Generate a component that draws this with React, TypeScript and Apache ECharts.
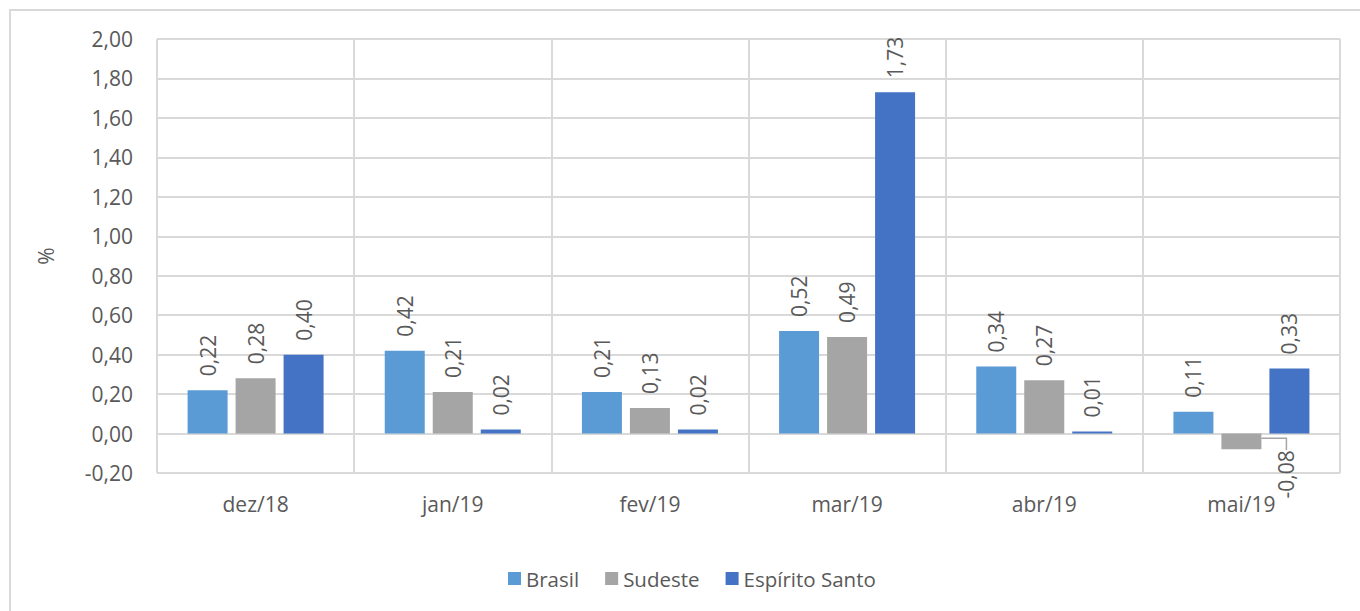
import React, { useEffect, useRef } from "react";
import * as echarts from "echarts";

const categories = ["dez/18", "jan/19", "fev/19", "mar/19", "abr/19", "mai/19"];
const brasil = [0.22, 0.42, 0.21, 0.52, 0.34, 0.11];
const sudeste = [0.28, 0.21, 0.13, 0.49, 0.27, -0.08];
const espiritoSanto = [0.4, 0.02, 0.02, 1.73, 0.01, 0.33];

const FONT = "'Open Sans', sans-serif";
const TEXT = "#595959";

const fmt = (v: number) => v.toFixed(2).replace(".", ",");

export default function App() {
  const ref = useRef<HTMLDivElement>(null);
  useEffect(() => {
    if (!ref.current) return;
    const chart = echarts.init(ref.current, undefined, { renderer: "svg" });
    const label = {
      show: true,
      position: "top",
      rotate: 90,
      align: "left",
      verticalAlign: "middle",
      distance: 14,
      color: TEXT,
      fontFamily: FONT,
      fontSize: 21,
      formatter: (p: any) => fmt(p.value),
    };
    const mk = (name: string, data: number[], color: string) => ({
      name,
      type: "bar",
      barWidth: 40,
      barGap: "20%",
      itemStyle: { color },
      label,
      labelLine: { show: false },
      data: data.map((v) =>
        v < 0
          ? {
              value: v,
              labelLine: {
                show: true,
                length2: 12,
                lineStyle: { color: "#a6a6a6", width: 1.5 },
              },
            }
          : v
      ),
      labelLayout: (p: any) => {
        const val = data[p.dataIndex];
        if (val >= 0) return {};
        return {
          x: p.rect.x + p.rect.width + 25,
          y: p.rect.y + p.rect.height + 1,
          align: "right",
          verticalAlign: "middle",
        };
      },
    });
    chart.setOption({
      animation: false,
      textStyle: { fontFamily: FONT },
      grid: { left: 157, right: 20, top: 39, bottom: 138, containLabel: false },
      legend: {
        left: 503,
        top: 563,
        itemWidth: 13,
        itemHeight: 13,
        itemGap: 26,
        icon: "rect",
        textStyle: { color: TEXT, fontSize: 20.5, fontFamily: FONT },
        data: ["Brasil", "Sudeste", "Espírito Santo"],
      },
      xAxis: {
        type: "category",
        data: categories,
        axisLine: { show: false },
        axisTick: { show: false },
        splitLine: { show: true, lineStyle: { color: "#d9d9d9", width: 2 } },
        axisLabel: { color: TEXT, fontSize: 21, fontFamily: FONT, margin: 20 },
      },
      yAxis: {
        type: "value",
        min: -0.2,
        max: 2,
        interval: 0.2,
        name: "%",
        nameLocation: "middle",
        nameRotate: 90,
        nameGap: 101,
        nameTextStyle: { color: TEXT, fontSize: 21, fontFamily: FONT },
        axisLine: { show: false },
        axisTick: { show: false },
        splitLine: { show: true, lineStyle: { color: "#d9d9d9", width: 2 } },
        axisLabel: {
          color: TEXT,
          fontSize: 21,
          fontFamily: FONT,
          margin: 24,
          formatter: (v: number) => fmt(v),
        },
      },
      series: [
        mk("Brasil", brasil, "#5B9BD5"),
        mk("Sudeste", sudeste, "#A5A5A5"),
        mk("Espírito Santo", espiritoSanto, "#4472C4"),
      ],
    });
    return () => chart.dispose();
  }, []);
  return (
    <div
      style={{
        position: "fixed",
        left: 0,
        top: 0,
        width: 1360,
        height: 611,
        background: "#fff",
        overflow: "hidden",
      }}
    >
      <div
        style={{
          position: "absolute",
          left: 9,
          top: 9,
          width: 1400,
          height: 700,
          border: "2px solid #d9d9d9",
          boxSizing: "border-box",
        }}
      />
      <div ref={ref} style={{ position: "absolute", left: 0, top: 0, width: 1360, height: 611 }} />
    </div>
  );
}
